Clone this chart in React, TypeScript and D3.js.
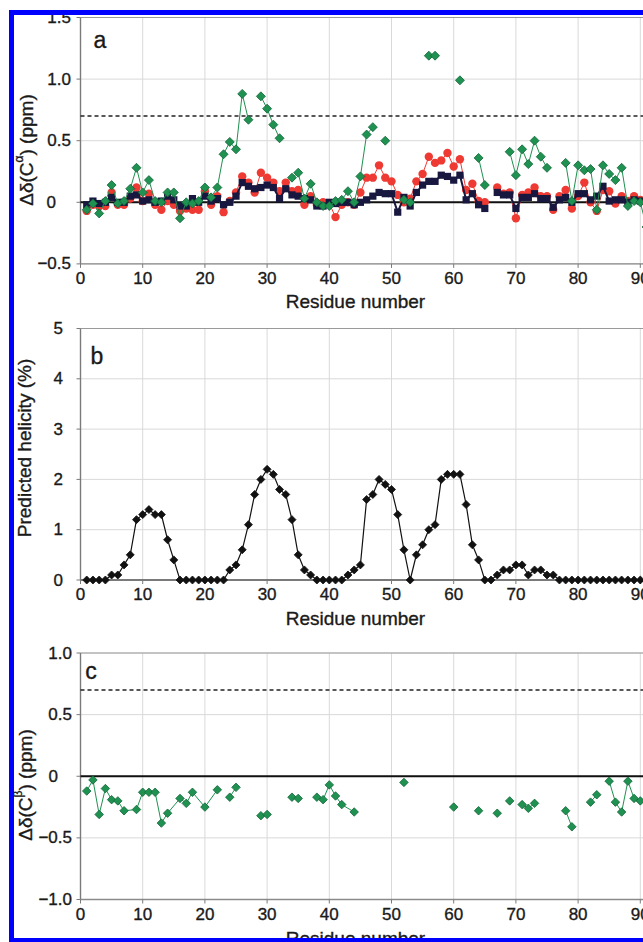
import React from "react";
import * as d3 from "d3";

// ---------- DATA ----------
// Panel a: Δδ(Cα) per residue 1..91 (null = no data)
const caGreen: (number | null)[] = [
  -0.06, -0.01, -0.09, 0.01, 0.14, -0.01, 0.01, 0.11, 0.28, 0.08,
  0.18, 0.01, 0.0, 0.08, 0.08, -0.13, 0.0, -0.01, 0.01, 0.12,
  0.04, 0.12, 0.39, 0.49, 0.43, 0.88, 0.67, null, 0.86, 0.76,
  0.63, 0.52, null, 0.2, 0.24, 0.03, 0.15, 0.0, -0.03, -0.03,
  0.01, 0.02, 0.09, 0.0, 0.21, 0.55, 0.61, null, 0.5, null,
  null, 0.02, 0.0, null, null, 1.19, 1.19, null, null, null,
  0.99, null, null, 0.36, 0.14, null, null, null, 0.41, 0.22,
  0.43, 0.31, 0.5, 0.37, 0.28, null, null, 0.32, 0.01, 0.3,
  0.26, 0.27, -0.06, 0.3, 0.23, 0.18, 0.28, -0.03, 0.01, 0.0,
  -0.2,
];
const caRed: (number | null)[] = [
  -0.07, -0.02, -0.03, -0.03, 0.08, -0.02, -0.02, 0.03, 0.12, 0.01,
  0.07, -0.02, -0.06, 0.01, -0.02, -0.07, -0.05, -0.06, -0.06, 0.09,
  -0.02, 0.05, -0.08, 0.01, 0.08, 0.21, 0.16, 0.08, 0.24, 0.2,
  0.16, 0.09, 0.16, 0.09, 0.1, -0.02, 0.05, -0.02, 0.0, -0.01,
  -0.12, -0.02, 0.0, -0.02, 0.08, 0.2, 0.2, 0.3, 0.2, 0.17,
  0.06, 0.0, 0.03, 0.17, 0.23, 0.37, 0.32, 0.34, 0.4, 0.29,
  0.35, 0.1, 0.15, 0.01, 0.0, null, 0.12, 0.07, 0.08, -0.13,
  0.06, 0.08, 0.12, 0.05, 0.05, -0.06, 0.05, 0.1, -0.05, 0.05,
  0.16, 0.0, -0.07, 0.1, 0.09, -0.01, 0.05, 0.01, 0.05, 0.02,
  0.0,
];
const caNavy: (number | null)[] = [
  -0.02, 0.01, -0.01, 0.0, 0.04, 0.0, 0.0, 0.05, 0.06, 0.01,
  0.02, 0.0, 0.01, 0.05, 0.02, -0.03, -0.03, 0.03, 0.0, 0.05,
  0.01, 0.03, -0.02, 0.0, 0.05, 0.16, 0.13, 0.11, 0.12, 0.14,
  0.12, 0.03, 0.11, 0.06, 0.05, 0.03, 0.02, -0.03, -0.03, 0.0,
  -0.01, 0.0, 0.0, -0.02, 0.0, 0.02, 0.05, 0.08, 0.07, 0.07,
  -0.08, 0.04, -0.03, 0.08, 0.14, 0.17, 0.17, 0.22, 0.21, 0.18,
  0.22, 0.02, 0.07, -0.02, -0.05, null, 0.08, 0.06, 0.06, -0.05,
  0.04, 0.04, 0.07, 0.03, 0.03, -0.04, 0.02, 0.04, 0.0, 0.07,
  0.07, 0.02, 0.05, 0.13, 0.01, 0.02, 0.02, 0.0, 0.02, 0.01,
  0.0,
];
// Panel b: predicted helicity (%) residue 1..91
const helicity: number[] = [
  0, 0, 0, 0, 0.1, 0.1, 0.3, 0.5, 1.2, 1.3,
  1.4, 1.3, 1.3, 0.8, 0.4, 0, 0, 0, 0, 0,
  0, 0, 0, 0.2, 0.3, 0.6, 1.1, 1.7, 2.0, 2.2,
  2.1, 1.8, 1.7, 1.2, 0.5, 0.2, 0.1, 0, 0, 0,
  0, 0, 0.1, 0.2, 0.3, 1.6, 1.7, 2.0, 1.9, 1.8,
  1.3, 0.6, 0, 0.5, 0.7, 1.0, 1.1, 2.0, 2.1, 2.1,
  2.1, 1.5, 0.7, 0.4, 0, 0, 0.1, 0.2, 0.2, 0.3,
  0.3, 0.1, 0.2, 0.2, 0.1, 0.1, 0, 0, 0, 0,
  0, 0, 0, 0, 0, 0, 0, 0, 0, 0,
  0,
];
// Panel c: Δδ(Cβ); null value = break in the line
const cbResidue: number[] = [
  1, 2, 3, 4, 5, 6, 7, 9, 10, 11, 12, 13, 14, 16, 17, 18, 20, 22, 23,
  24, 25, 26, 29, 30, 31, 34, 35, 36, 38, 39, 40, 41, 42, 44, 45,
  52, 53, 60, 61, 64, 65, 67, 68, 69, 70, 71, 72, 73, 74,
  78, 79, 80, 82, 83, 84, 85, 86, 87, 88, 89, 90,
];
const cbShift: (number | null)[] = [
  -0.12, -0.03, -0.31, -0.1, -0.19, -0.2, -0.28, -0.27, -0.13, -0.13, -0.13, -0.38, -0.3, -0.18, -0.22, -0.13, -0.25, -0.11, null,
  -0.17, -0.09, null, -0.32, -0.31, null, -0.17, -0.18, null, -0.17, -0.19, -0.07, -0.16, -0.23, -0.29, null,
  -0.05, null, -0.25, null, -0.28, null, -0.3, null, -0.2, null, -0.23, -0.26, -0.22, null,
  -0.28, -0.41, null, -0.21, -0.15, null, -0.04, -0.21, -0.29, -0.04, -0.18, -0.2,
];

const xTicks = [0, 10, 20, 30, 40, 50, 60, 70, 80, 90, 100];
const aTicks = [-0.5, 0, 0.5, 1.0, 1.5];
const bTicks = [0, 1, 2, 3, 4, 5];
const cTicks = [-1.0, -0.5, 0, 0.5, 1.0];
const threshold = 0.7;

// ---------- STYLE ----------
const FONT = "'Liberation Sans', Arial, Helvetica, sans-serif";
const GREEN = "#1f9150";
const RED = "#ee3a33";
const NAVY = "#17173f";
const TXT = "#1a1a1a";

type Pt = { x: number; y: number | null };

const x = d3.scaleLinear().domain([0, 100]).range([80.5, 702.5]);

function toPts(vals: (number | null)[]): Pt[] {
  return vals.map((v, i) => ({ x: i + 1, y: v }));
}

function Diamond({ cx, cy, d, fill, stroke }: any) {
  const h = d / 2;
  return (
    <path
      d={`M${cx},${cy - h}L${cx + h},${cy}L${cx},${cy + h}L${cx - h},${cy}Z`}
      fill={fill}
      stroke={stroke}
      strokeWidth={0.8}
    />
  );
}

const txtProps = { fontFamily: FONT, fill: TXT, stroke: TXT, strokeWidth: 0.35 };

function Panel({
  y,
  ticks,
  fmt,
  labelRight,
  zeroRight,
  zeroLine,
  dashed,
  letter,
  letterX,
  letterY,
  title,
  titleX,
  titleY,
  xLabelY,
  xTitleY,
  children,
}: any) {
  const [y0, y1] = y.domain();
  const top = y(y1);
  const bottom = y(y0);
  const left = x(0);
  return (
    <g>
      {/* grid */}
      {xTicks.slice(1).map((t) => (
        <line key={"vx" + t} x1={x(t)} x2={x(t)} y1={top} y2={bottom} stroke="#d9d9d9" strokeWidth={1} />
      ))}
      {ticks.map((t: number) => (
        <line key={"hy" + t} x1={left} x2={700} y1={y(t)} y2={y(t)} stroke="#d9d9d9" strokeWidth={1} />
      ))}
      {/* frame */}
      <line x1={left} x2={700} y1={top} y2={top} stroke="#9a9a9a" strokeWidth={1.2} />
      <line x1={left} x2={700} y1={bottom} y2={bottom} stroke={zeroLine ? "#8a8a8a" : "#555"} strokeWidth={1.4} />
      <line x1={left} x2={left} y1={top} y2={bottom} stroke="#7a7a7a" strokeWidth={1.4} />
      {ticks.map((t: number) => (
        <line key={"tk" + t} x1={left - 4} x2={left} y1={y(t)} y2={y(t)} stroke="#7a7a7a" strokeWidth={1} />
      ))}
      {xTicks.map((t) => (
        <line key={"xt" + t} x1={x(t)} x2={x(t)} y1={bottom} y2={bottom + 4} stroke="#7a7a7a" strokeWidth={1} />
      ))}
      {dashed && (
        <line x1={left} x2={700} y1={y(threshold)} y2={y(threshold)} stroke="#222" strokeWidth={1.5} strokeDasharray="4,3" />
      )}
      {zeroLine && <line x1={left} x2={700} y1={y(0)} y2={y(0)} stroke="#111" strokeWidth={2} />}
      {/* y labels */}
      {ticks.map((t: number) => (
        <text
          key={"yl" + t}
          x={t === 0 ? zeroRight : labelRight}
          y={y(t)}
          textAnchor="end"
          dominantBaseline="central"
          fontSize={17}
          {...txtProps}
        >
          {fmt(t)}
        </text>
      ))}
      {/* x labels */}
      {xTicks.map((t) => (
        <text key={"xl" + t} x={x(t)} y={xLabelY} textAnchor="middle" dominantBaseline="central" fontSize={17} {...txtProps}>
          {t}
        </text>
      ))}
      <text x={355.5} y={xTitleY} textAnchor="middle" dominantBaseline="central" fontSize={19} {...txtProps}>
        Residue number
      </text>
      <text x={letterX} y={letterY} textAnchor="middle" fontSize={23} {...txtProps}>
        {letter}
      </text>
      <text
        transform={`translate(${titleX},${titleY}) rotate(-90)`}
        textAnchor="middle"
        dominantBaseline="central"
        fontSize={19}
        {...txtProps}
      >
        {title}
      </text>
      {children}
    </g>
  );
}

export default function App() {
  const yA = d3.scaleLinear().domain([-0.5, 1.5]).range([263.9, 17.5]);
  const yB = d3.scaleLinear().domain([0, 5]).range([580, 328.5]);
  const yC = d3.scaleLinear().domain([-1, 1]).range([899.5, 653]);

  const lineFor = (ys: any) =>
    d3
      .line<Pt>()
      .defined((p) => p.y !== null)
      .x((p) => x(p.x))
      .y((p) => ys(p.y as number));

  const green = toPts(caGreen);
  const red = toPts(caRed);
  const navy = toPts(caNavy);
  const heli = toPts(helicity);
  const cb: Pt[] = cbResidue.map((r, i) => ({ x: r, y: cbShift[i] }));

  const fmtA = (v: number) => (v === 0 ? "0" : d3.format(".1f")(v));
  const fmtB = (v: number) => String(v);

  return (
    <svg width={643} height={942} style={{ position: "absolute", left: 0, top: 0, background: "#fff" }}>
      <rect x={0} y={0} width={643} height={942} fill="#fff" />
      {/* Panel a */}
      <Panel
        y={yA}
        ticks={aTicks}
        fmt={fmtA}
        labelRight={71}
        zeroRight={56}
        zeroLine
        dashed
        letter="a"
        letterX={100}
        letterY={48}
        title={
          <>
            Δδ(C<tspan fontSize={12} dy={-7}>α</tspan>
            <tspan dy={7}>) (ppm)</tspan>
          </>
        }
        titleX={26}
        titleY={150}
        xLabelY={278.5}
        xTitleY={301}
      >
        <path d={lineFor(yA)(red) || ""} fill="none" stroke={RED} strokeWidth={1} />
        {red.filter((p) => p.y !== null).map((p, i) => (
          <circle key={"r" + i} cx={x(p.x)} cy={yA(p.y as number)} r={4.2} fill={RED} />
        ))}
        <path d={lineFor(yA)(navy) || ""} fill="none" stroke={NAVY} strokeWidth={2} />
        {navy.filter((p) => p.y !== null).map((p, i) => (
          <rect key={"n" + i} x={x(p.x) - 3.6} y={yA(p.y as number) - 3.6} width={7.2} height={7.2} fill={NAVY} />
        ))}
        <path d={lineFor(yA)(green) || ""} fill="none" stroke={GREEN} strokeWidth={1} />
        {green.filter((p) => p.y !== null).map((p, i) => (
          <Diamond key={"g" + i} cx={x(p.x)} cy={yA(p.y as number)} d={9} fill={GREEN} stroke="#11663a" />
        ))}
      </Panel>

      {/* Panel b */}
      <Panel
        y={yB}
        ticks={bTicks}
        fmt={fmtB}
        labelRight={63}
        zeroRight={63}
        zeroLine={false}
        dashed={false}
        letter="b"
        letterX={97}
        letterY={364}
        title={<>Predicted helicity (%)</>}
        titleX={24}
        titleY={448}
        xLabelY={594}
        xTitleY={618}
      >
        <path d={lineFor(yB)(heli) || ""} fill="none" stroke="#111" strokeWidth={1.2} />
        {heli.map((p, i) => (
          <Diamond key={"h" + i} cx={x(p.x)} cy={yB(p.y as number)} d={8} fill="#111" stroke="#111" />
        ))}
      </Panel>

      {/* Panel c */}
      <Panel
        y={yC}
        ticks={cTicks}
        fmt={fmtA}
        labelRight={72}
        zeroRight={58}
        zeroLine
        dashed
        letter="c"
        letterX={91}
        letterY={679}
        title={
          <>
            Δδ(C<tspan fontSize={12} dy={-7}>β</tspan>
            <tspan dy={7}>) (ppm)</tspan>
          </>
        }
        titleX={25}
        titleY={785}
        xLabelY={914}
        xTitleY={938}
      >
        <path d={lineFor(yC)(cb) || ""} fill="none" stroke={GREEN} strokeWidth={1} />
        {cb.filter((p) => p.y !== null).map((p, i) => (
          <Diamond key={"c" + i} cx={x(p.x)} cy={yC(p.y as number)} d={8.5} fill={GREEN} stroke="#11663a" />
        ))}
      </Panel>

      {/* blue frame */}
      <rect x={11.5} y={12.5} width={700} height={928} fill="none" stroke="#0000ff" strokeWidth={5} />
      <rect x={0} y={0} width={9} height={942} fill="#fff" />
      <rect x={0} y={0} width={643} height={10} fill="#fff" />
    </svg>
  );
}
